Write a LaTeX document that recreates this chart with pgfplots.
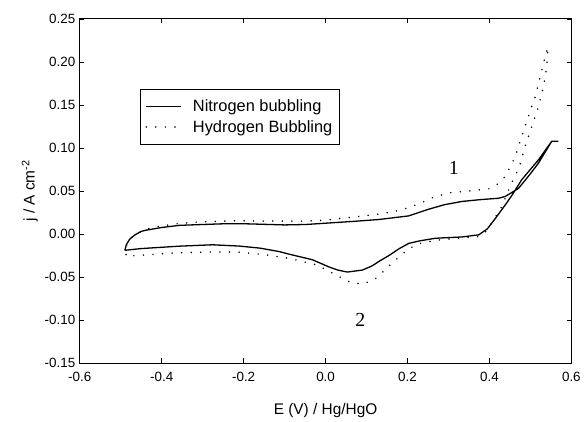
\documentclass[border=0pt]{standalone}
\usepackage{fontspec}
\setmainfont{Liberation Sans}
\newfontfamily\timesf{Liberation Serif}
\usepackage{pgfplots}
\pgfplotsset{compat=1.18}

\begin{document}
\begin{tikzpicture}
\begin{axis}[
    scale only axis,
    width=493bp, height=345bp,
    xmin=-0.6, xmax=0.6, ymin=-0.15, ymax=0.25,
    xtick={-0.6,-0.4,-0.2,0,0.2,0.4,0.6},
    ytick={-0.15,-0.10,-0.05,0,0.05,0.10,0.15,0.20,0.25},
    tick align=inside,
    major tick length=4.5bp,
    axis line style={line width=0.9bp},
    every tick/.style={line width=0.8bp, black},
    /pgf/number format/assume math mode=true,
    xticklabel style={yshift=-6bp, /pgf/number format/.cd, fixed, fixed zerofill, precision=1},
    yticklabel style={xshift=-1bp, /pgf/number format/.cd, fixed, fixed zerofill, precision=2},
    tick label style={font=\fontsize{13.5}{15}\selectfont},
    label style={font=\fontsize{15.5}{17}\selectfont},
    xlabel={E (V) / Hg/HgO},
    ylabel={j / A cm\textsuperscript{-2}},
    xlabel style={yshift=-15bp},
    ylabel style={yshift=0bp},
    legend style={at={(axis cs:-0.453,0.169)}, anchor=north west, draw=black, line width=0.8bp,
        font=\fontsize{16.5}{19}\selectfont, inner xsep=5bp, inner ysep=9bp,
        row sep=3bp, cells={anchor=west},
        /tikz/every odd column/.append style={column sep=9bp}},
    legend image code/.code={\draw[#1] (0bp,0bp) -- (35bp,0bp);},
]
% Nitrogen bubbling (solid loop)
\addplot[black, line width=1.3bp, line join=round] coordinates {
(-0.490,-0.019) (-0.486,-0.012) (-0.478,-0.006) (-0.465,-0.001) (-0.450,0.003)
(-0.438,0.0044) (-0.400,0.0075) (-0.357,0.0100) (-0.300,0.0110) (-0.250,0.0118)
(-0.194,0.0118) (-0.150,0.0112) (-0.100,0.0105) (-0.048,0.0110) (0.000,0.0125)
(0.0735,0.0148) (0.130,0.0168) (0.203,0.0210) (0.252,0.0288) (0.290,0.0340)
(0.333,0.0378) (0.380,0.0400) (0.422,0.0415) (0.439,0.0437) (0.471,0.0530)
(0.500,0.0700) (0.520,0.0826) (0.552,0.1077) (0.567,0.1077)
(0.552,0.1077) (0.520,0.0864) (0.479,0.0632) (0.455,0.0450) (0.439,0.0340)
(0.414,0.0178) (0.395,0.0060) (0.374,-0.0010) (0.333,-0.0035) (0.268,-0.0050)
(0.230,-0.0080) (0.203,-0.0110) (0.180,-0.0170) (0.155,-0.0250) (0.130,-0.0320)
(0.114,-0.0370) (0.090,-0.0420) (0.053,-0.0443) (0.030,-0.0420) (0.009,-0.0385)
(-0.032,-0.0300) (-0.089,-0.0235) (-0.113,-0.0205) (-0.160,-0.0165) (-0.2105,-0.0141)
(-0.276,-0.0126) (-0.357,-0.0142) (-0.450,-0.0170) (-0.490,-0.019)
};
\addlegendentry{Nitrogen bubbling}
% Hydrogen bubbling (dotted loop)
\addplot[black, line width=1.7bp, line cap=round, dash pattern=on 0bp off 9.6bp] coordinates {
(-0.487,-0.024) (-0.485,-0.012) (-0.470,-0.002) (-0.440,0.005) (-0.413,0.0084)
(-0.360,0.0120) (-0.316,0.0137) (-0.227,0.0153) (-0.150,0.0150) (-0.048,0.0149)
(0.000,0.0160) (0.0735,0.0200) (0.130,0.0230) (0.183,0.0276) (0.228,0.0350)
(0.260,0.0420) (0.301,0.0478) (0.350,0.0500) (0.398,0.0524) (0.420,0.0580)
(0.439,0.0670) (0.463,0.0900) (0.479,0.1135) (0.495,0.1367) (0.512,0.1599)
(0.524,0.1830) (0.536,0.2063) (0.5425,0.2172)
(0.540,0.1947) (0.532,0.1715) (0.520,0.1483) (0.5035,0.1250) (0.487,0.1019)
(0.4735,0.0787) (0.4507,0.0555) (0.4305,0.0323) (0.414,0.0190) (0.392,0.0030)
(0.374,-0.0030) (0.349,-0.0040) (0.276,-0.0070) (0.230,-0.0110) (0.203,-0.0172)
(0.163,-0.0334) (0.140,-0.0440) (0.122,-0.0520) (0.090,-0.0586) (0.060,-0.0560)
(0.033,-0.0497) (-0.021,-0.0360) (-0.089,-0.0284) (-0.150,-0.0240) (-0.210,-0.0211)
(-0.280,-0.0210) (-0.357,-0.0218) (-0.430,-0.0240) (-0.478,-0.0257) (-0.487,-0.024)
};
\addlegendentry{Hydrogen Bubbling}
\node[font=\timesf\fontsize{20}{22}\selectfont] at (axis cs:0.313,0.077) {1};
\node[font=\timesf\fontsize{20}{22}\selectfont] at (axis cs:0.085,-0.100) {2};
\end{axis}
\path (current axis.south west) ++(-80bp,-53bp) coordinate (bbsw);
\path (current axis.north east) ++(11bp,19bp) coordinate (bbne);
\path (bbsw) rectangle (bbne);
\end{tikzpicture}
\end{document}
